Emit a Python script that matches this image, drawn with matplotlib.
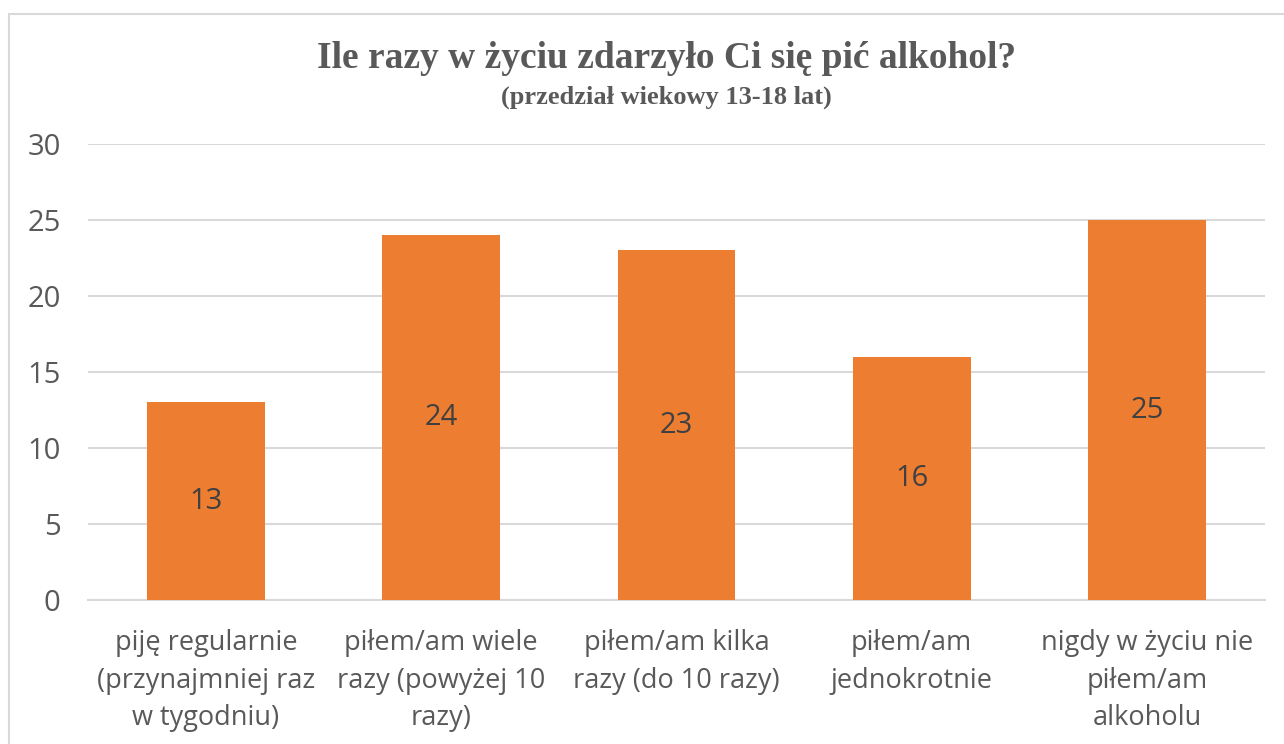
import matplotlib.pyplot as plt
from matplotlib.patches import Rectangle

# --- data ---
categories = [
    "piję regularnie\n(przynajmniej raz\nw tygodniu)",
    "piłem/am wiele\nrazy (powyżej 10\nrazy)",
    "piłem/am kilka\nrazy (do 10 razy)",
    "piłem/am\njednokrotnie",
    "nigdy w życiu nie\npiłem/am\nalkoholu",
]
values = [13, 24, 23, 16, 25]
yticks = [0, 5, 10, 15, 20, 25, 30]

title = "Ile razy w życiu zdarzyło Ci się pić alkohol?"
subtitle = "(przedział wiekowy 13-18 lat)"

bar_color = "#ED7D31"
text_color = "#595959"
grid_color = "#D9D9D9"

W, H = 1284, 744
fig = plt.figure(figsize=(W / 100, H / 100), dpi=100)

# chart border
fig.patches.append(Rectangle((9 / W, -0.1), 1.2, (H - 14) / H + 0.1,
                             transform=fig.transFigure, fill=False,
                             edgecolor=grid_color, linewidth=1.5))

ax = fig.add_axes([88.4 / W, 1 - 600 / H, (1264.6 - 88.4) / W, (600 - 144) / H])
x = range(len(values))
bars = ax.bar(x, values, width=0.5, color=bar_color, zorder=3)

for xi, v in zip(x, values):
    ax.text(xi, v / 2, str(v), ha="center", va="center", fontsize=21,
            color="#404040", family="Open Sans", zorder=4)

ax.set_xlim(-0.5, len(values) - 0.5)
ax.set_ylim(0, 30)
ax.set_yticks(yticks)
ax.set_yticklabels([str(t) for t in yticks], fontsize=21, color=text_color,
                   family="Open Sans")
ax.set_xticks(list(x))
ax.set_xticklabels(categories, fontsize=19.5, color=text_color,
                   family="Open Sans", linespacing=1.45)
ax.tick_params(axis="both", length=0)
ax.tick_params(axis="y", pad=20)
ax.tick_params(axis="x", pad=21)
ax.grid(axis="y", color=grid_color, linewidth=1.5, zorder=0)
for s in ["top", "right", "left"]:
    ax.spines[s].set_visible(False)
ax.spines["bottom"].set_color(grid_color)
ax.spines["bottom"].set_linewidth(1.5)

fig.text(0.519, 1 - 58 / H, title, ha="center", va="center", fontsize=27,
         fontweight="bold", color=text_color, family="Liberation Serif")
fig.text(0.519, 1 - 97 / H, subtitle, ha="center", va="center", fontsize=19,
         fontweight="bold", color=text_color, family="Liberation Serif")

fig.savefig("out.png", dpi=100)
